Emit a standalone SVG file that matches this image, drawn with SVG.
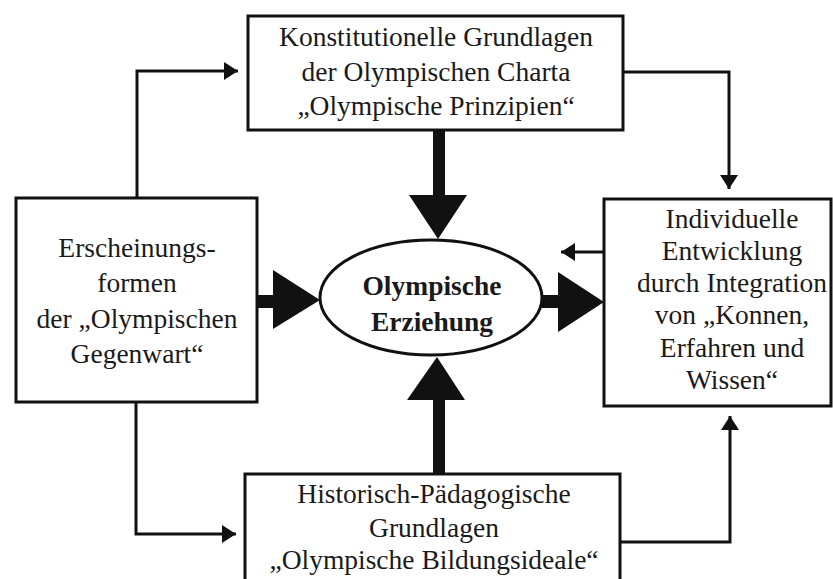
<svg xmlns="http://www.w3.org/2000/svg" width="833" height="579" viewBox="0 0 833 579">
  <style>
    .box { fill: #ffffff; stroke: #111111; stroke-width: 3; }
    .conn { fill: none; stroke: #111111; stroke-width: 3; }
    .big { fill: #111111; stroke: none; }
    .t { font-family: "Liberation Serif", "Times New Roman", serif; font-size: 27.5px; fill: #1a1a1a; text-anchor: middle; }
    .b { font-weight: bold; }
  </style>
  <defs>
    <marker id="ah" markerUnits="userSpaceOnUse" markerWidth="14" markerHeight="18" refX="14" refY="9" orient="auto">
      <path d="M0,0 L14,9 L0,18 z" fill="#111111"/>
    </marker>
  </defs>
  <rect width="833" height="579" fill="#ffffff"/>

  <g id="connectors">
    <polyline class="conn" points="137,198 137,71 238,71" marker-end="url(#ah)"/>
    <polyline class="conn" points="622,72 729,72 729,189" marker-end="url(#ah)"/>
    <polyline class="conn" points="136,402 136,534 236,534" marker-end="url(#ah)"/>
    <polyline class="conn" points="620,542 730,542 730,416" marker-end="url(#ah)"/>
    <line class="conn" x1="604" y1="252" x2="561" y2="252" marker-end="url(#ah)"/>
    <polygon class="big" points="433,130 445,130 445,195 467,195 438,239 409,195 433,195"/>
    <polygon class="big" points="433,474 445,474 445,400 465,400 437,357 407,400 433,400"/>
    <polygon class="big" points="257,295 273,295 273,270 320,300 273,329 273,308 257,308"/>
    <polygon class="big" points="542,295 558,295 558,272 604,302 558,332 558,308 542,308"/>
  </g>

  <g id="node-top">
    <rect class="box" x="248" y="16" width="375" height="114"/>
    <text class="t" x="436" y="46">Konstitutionelle Grundlagen</text>
    <text class="t" x="436" y="81">der Olympischen Charta</text>
    <text class="t" x="436" y="115">„Olympische Prinzipien“</text>
  </g>

  <g id="node-left">
    <rect class="box" x="16" y="198" width="241" height="204"/>
    <text class="t" x="137" y="257">Erscheinungs-</text>
    <text class="t" x="137" y="292">formen</text>
    <text class="t" x="137" y="328">der „Olympischen</text>
    <text class="t" x="137" y="363">Gegenwart“</text>
  </g>

  <g id="node-right">
    <rect class="box" x="604" y="199" width="227" height="207"/>
    <text class="t" x="732" y="228">Individuelle</text>
    <text class="t" x="732" y="260">Entwicklung</text>
    <text class="t" x="732" y="292">durch Integration</text>
    <text class="t" x="732" y="324">von „Konnen,</text>
    <text class="t" x="732" y="357">Erfahren und</text>
    <text class="t" x="732" y="389">Wissen“</text>
  </g>

  <g id="node-bottom">
    <rect class="box" x="245" y="474" width="375" height="120"/>
    <text class="t" x="434" y="503">Historisch-Pädagogische</text>
    <text class="t" x="434" y="537">Grundlagen</text>
    <text class="t" x="434" y="569">„Olympische Bildungsideale“</text>
  </g>

  <g id="node-center">
    <ellipse class="box" cx="431" cy="297.5" rx="111" ry="57.5"/>
    <text class="t b" x="432" y="295">Olympische</text>
    <text class="t b" x="432" y="331">Erziehung</text>
  </g>
</svg>
